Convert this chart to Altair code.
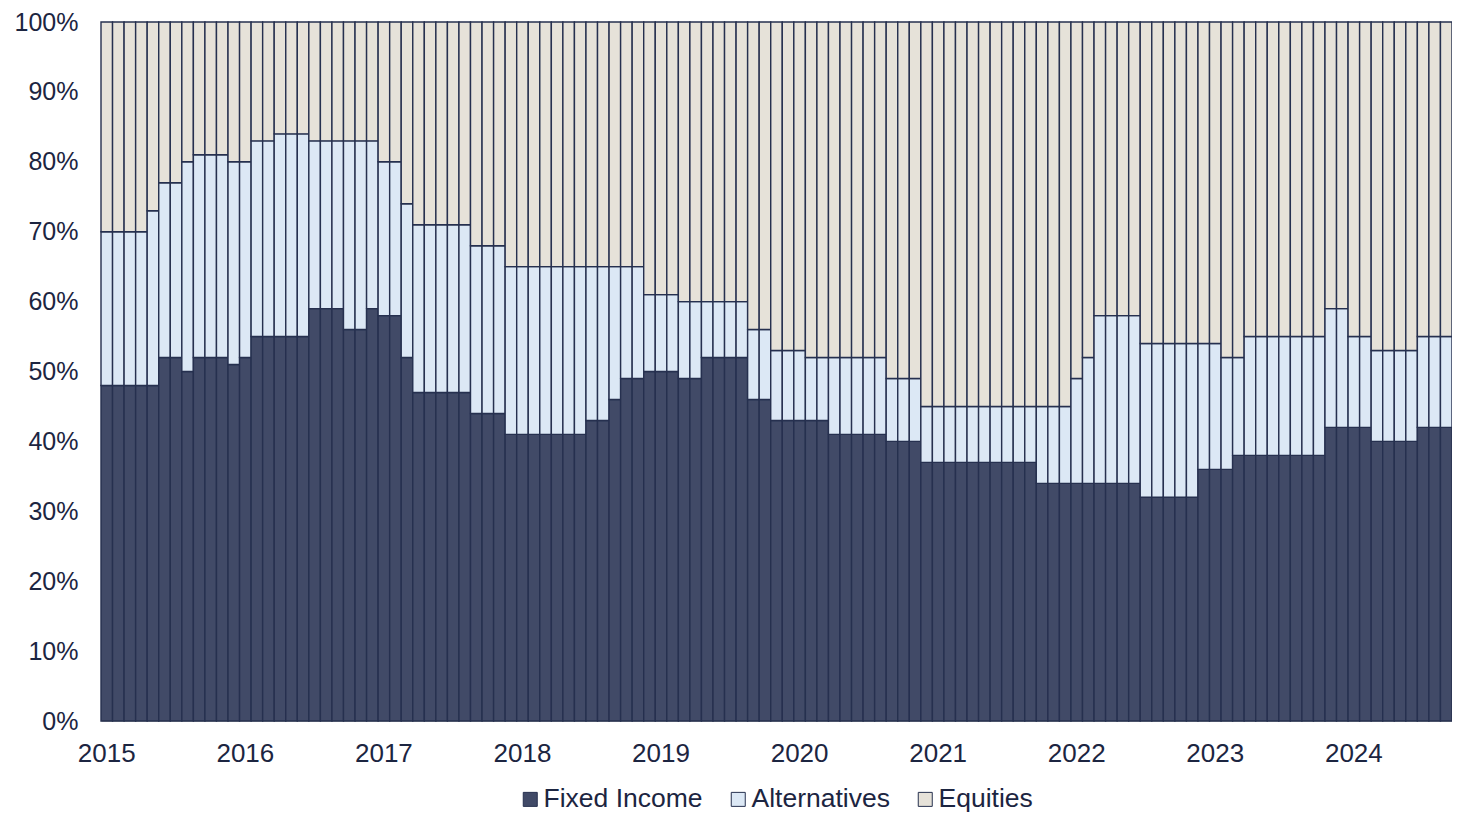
import altair as alt
import pandas as pd

months = [f"{y}-{m:02d}" for y in range(2015, 2025) for m in range(1, 13)][:117]
series = ["Fixed Income", "Alternatives", "Equities"]
colors = ["#414A67", "#DCE8F5", "#E6E2D9"]

fixed_income = [
    48, 48, 48, 48, 48, 52, 52, 50, 52, 52, 52, 51,
    52, 55, 55, 55, 55, 55, 59, 59, 59, 56, 56, 59,
    58, 58, 52, 47, 47, 47, 47, 47, 44, 44, 44, 41,
    41, 41, 41, 41, 41, 41, 43, 43, 46, 49, 49, 50,
    50, 50, 49, 49, 52, 52, 52, 52, 46, 46, 43, 43,
    43, 43, 43, 41, 41, 41, 41, 41, 40, 40, 40, 37,
    37, 37, 37, 37, 37, 37, 37, 37, 37, 34, 34, 34,
    34, 34, 34, 34, 34, 34, 32, 32, 32, 32, 32, 36,
    36, 36, 38, 38, 38, 38, 38, 38, 38, 38, 42, 42,
    42, 42, 40, 40, 40, 40, 42, 42, 42,
]
alternatives = [
    22, 22, 22, 22, 25, 25, 25, 30, 29, 29, 29, 29,
    28, 28, 28, 29, 29, 29, 24, 24, 24, 27, 27, 24,
    22, 22, 22, 24, 24, 24, 24, 24, 24, 24, 24, 24,
    24, 24, 24, 24, 24, 24, 22, 22, 19, 16, 16, 11,
    11, 11, 11, 11, 8, 8, 8, 8, 10, 10, 10, 10,
    10, 9, 9, 11, 11, 11, 11, 11, 9, 9, 9, 8,
    8, 8, 8, 8, 8, 8, 8, 8, 8, 11, 11, 11,
    15, 18, 24, 24, 24, 24, 22, 22, 22, 22, 22, 18,
    18, 16, 14, 17, 17, 17, 17, 17, 17, 17, 17, 17,
    13, 13, 13, 13, 13, 13, 13, 13, 13,
]
equities = [
    30, 30, 30, 30, 27, 23, 23, 20, 19, 19, 19, 20,
    20, 17, 17, 16, 16, 16, 17, 17, 17, 17, 17, 17,
    20, 20, 26, 29, 29, 29, 29, 29, 32, 32, 32, 35,
    35, 35, 35, 35, 35, 35, 35, 35, 35, 35, 35, 39,
    39, 39, 40, 40, 40, 40, 40, 40, 44, 44, 47, 47,
    47, 48, 48, 48, 48, 48, 48, 48, 51, 51, 51, 55,
    55, 55, 55, 55, 55, 55, 55, 55, 55, 55, 55, 55,
    51, 48, 42, 42, 42, 42, 46, 46, 46, 46, 46, 46,
    46, 48, 48, 45, 45, 45, 45, 45, 45, 45, 41, 41,
    45, 45, 47, 47, 47, 47, 45, 45, 45,
]

rows = []
for i, m in enumerate(months):
    for j, (name, vals) in enumerate(zip(series, [fixed_income, alternatives, equities])):
        rows.append({"month": m, "series": name, "value": vals[i], "ord": j})
df = pd.DataFrame(rows)

text_color = "#1C2541"
font = "Liberation Sans"

chart = (
    alt.Chart(df)
    .mark_bar(stroke="#26304F", strokeWidth=1.4)
    .encode(
        x=alt.X(
            "month:O",
            sort=months,
            scale=alt.Scale(paddingInner=0, paddingOuter=0),
            axis=alt.Axis(
                title=None,
                labelAngle=0,
                ticks=False,
                tickSize=0,
                labelOverlap=False,
                labelExpr="substring(datum.value,5,7)=='01' ? substring(datum.value,0,4) : ''",
                labelPadding=19,
                labelFontSize=26,
                labelFont=font,
                labelColor=text_color,
                domainColor="#BFBFBF",
                domainWidth=1,
                grid=False,
            ),
        ),
        y=alt.Y(
            "value:Q",
            stack="zero",
            scale=alt.Scale(domain=[0, 100], nice=False),
            axis=alt.Axis(
                title=None,
                values=list(range(0, 101, 10)),
                labelExpr="datum.value + '%'",
                ticks=False,
                tickSize=0,
                domain=False,
                grid=False,
                labelPadding=23,
                labelFontSize=25,
                labelFont=font,
                labelColor=text_color,
            ),
        ),
        color=alt.Color(
            "series:N",
            scale=alt.Scale(domain=series, range=colors),
            legend=alt.Legend(
                title=None,
                orient="none",
                legendX=416,
                legendY=764,
                direction="horizontal",
                symbolType="square",
                symbolSize=196,
                symbolStrokeColor="#26304F",
                symbolStrokeWidth=1,
                symbolOpacity=1,
                labelFontSize=26.5,
                labelFont=font,
                labelColor=text_color,
                labelOffset=0,
                columnPadding=22,
                labelLimit=400,
            ),
        ),
        order=alt.Order("ord:Q", sort="ascending"),
    )
    .properties(
        width=1351,
        height=699,
        autosize=alt.AutoSizeParams(type="none"),
        padding={"left": 93, "top": 14, "right": 0, "bottom": 94},
    )
    .configure_view(stroke=None)
)

chart.save("out.html", embed_options={"renderer": "svg", "actions": False})
